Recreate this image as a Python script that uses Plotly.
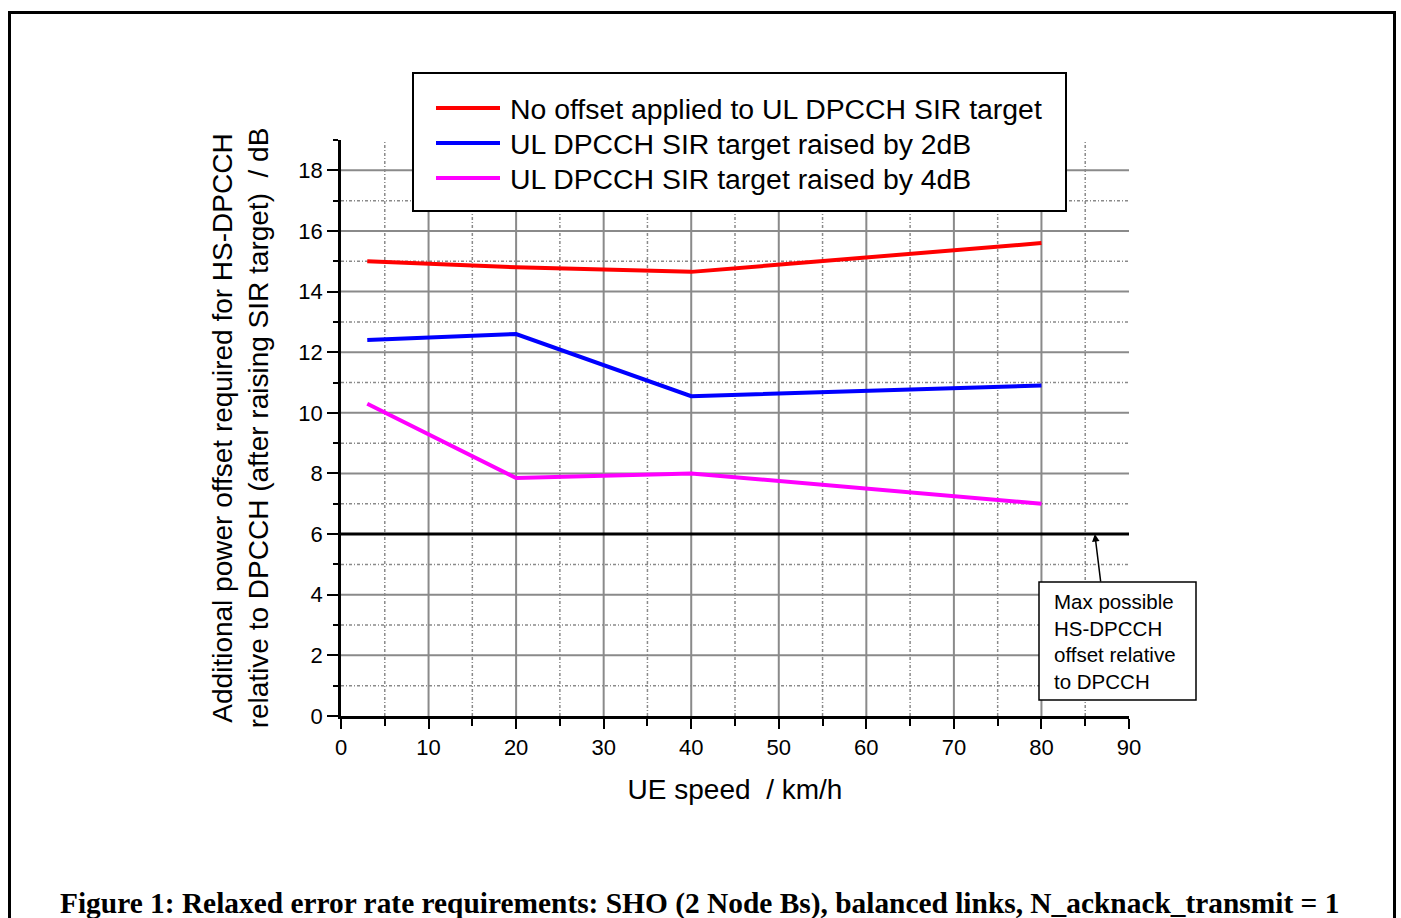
import plotly.graph_objects as go

# UE speed (km/h) and required HS-DPCCH power offset (dB) for each SIR target setting
speed = [3, 20, 40, 80]
no_offset = [15.0, 14.8, 14.65, 15.6]
raised_2db = [12.4, 12.6, 10.55, 10.9]
raised_4db = [10.3, 7.85, 8.0, 7.0]
max_offset = 6

series_names = [
    "No offset applied to UL DPCCH SIR target",
    "UL DPCCH SIR target raised by 2dB",
    "UL DPCCH SIR target raised by 4dB",
]
series_values = [no_offset, raised_2db, raised_4db]
series_colors = ["#ff0000", "#0000ff", "#ff00ff"]

x_major_grid = [10, 20, 30, 40, 50, 60, 70, 80]
x_minor_grid = [5, 15, 25, 35, 45, 55, 65, 75, 85]
y_major_grid = [2, 4, 6, 8, 10, 12, 14, 16, 18]
y_minor_grid = [1, 3, 5, 7, 9, 11, 13, 15, 17]

X_RANGE = [0, 90]
Y_RANGE = [0, 19]

W, H = 1401, 918
ML, MR, MT, MB = 341, 272, 140, 202
PW, PH = W - ML - MR, H - MT - MB

SANS = "Liberation Sans, Arial, sans-serif"
SERIF = "Liberation Serif, Times New Roman, serif"
GRID = "#8a8a8a"


def px_x(p):
    return (p - ML) / PW


def px_y(p):
    return (H - MB - p) / PH


fig = go.Figure()

shapes = []
# grid: solid at major values, dotted at intermediate values
for v in x_major_grid:
    shapes.append(dict(type="line", xref="x", yref="y", x0=v, x1=v, y0=Y_RANGE[0], y1=Y_RANGE[1],
                       line=dict(color=GRID, width=2), layer="below"))
for v in x_minor_grid:
    shapes.append(dict(type="line", xref="x", yref="y", x0=v, x1=v, y0=Y_RANGE[0], y1=Y_RANGE[1],
                       line=dict(color=GRID, width=1.5, dash="3px,2px,1px,2px"), layer="below"))
for v in y_major_grid:
    shapes.append(dict(type="line", xref="x", yref="y", x0=X_RANGE[0], x1=X_RANGE[1], y0=v, y1=v,
                       line=dict(color=GRID, width=2), layer="below"))
for v in y_minor_grid:
    shapes.append(dict(type="line", xref="x", yref="y", x0=X_RANGE[0], x1=X_RANGE[1], y0=v, y1=v,
                       line=dict(color=GRID, width=1.5, dash="3px,2px,1px,2px"), layer="below"))

# horizontal limit line
fig.add_trace(go.Scatter(x=X_RANGE, y=[max_offset, max_offset], mode="lines",
                         line=dict(color="black", width=3), showlegend=False, hoverinfo="skip"))

for name, vals, col in zip(series_names, series_values, series_colors):
    fig.add_trace(go.Scatter(x=speed, y=vals, mode="lines", name=name,
                             line=dict(color=col, width=4), showlegend=False))

# legend box
shapes.append(dict(type="rect", xref="paper", yref="paper",
                   x0=px_x(413), x1=px_x(1066), y0=px_y(211), y1=px_y(73),
                   line=dict(color="black", width=2), fillcolor="white", layer="above"))
annotations = []
for i, (name, col) in enumerate(zip(series_names, series_colors)):
    row_y = 108 + 35 * i
    shapes.append(dict(type="line", xref="paper", yref="paper",
                       x0=px_x(436), x1=px_x(500), y0=px_y(row_y), y1=px_y(row_y),
                       line=dict(color=col, width=4), layer="above"))
    annotations.append(dict(xref="paper", yref="paper", x=px_x(508), y=px_y(row_y + 1),
                            xanchor="left", yanchor="middle", text=name, showarrow=False,
                            font=dict(family=SANS, size=28.4, color="black")))

# callout for the limit line: box, text and arrow
shapes.append(dict(type="rect", xref="paper", yref="paper",
                   x0=px_x(1039), x1=px_x(1196), y0=px_y(700), y1=px_y(582),
                   line=dict(color="black", width=1.5), fillcolor="white", layer="above"))
annotations.append(dict(
    xref="paper", yref="paper", x=px_x(1052), y=px_y(641), xanchor="left", yanchor="middle",
    text="Max possible<br>HS-DPCCH<br>offset relative<br>to DPCCH",
    align="left", showarrow=False,
    font=dict(family=SANS, size=20.5, color="black"),
))
annotations.append(dict(
    xref="x", yref="y", x=86.1, y=max_offset, ax=6, ay=49, text="",
    showarrow=True, arrowhead=2, arrowsize=1, arrowwidth=1.5, arrowcolor="black",
))

# caption
annotations.append(dict(
    xref="paper", yref="paper", x=px_x(699), y=px_y(903), xanchor="center", yanchor="middle",
    text="<b>Figure 1: Relaxed error rate requirements: SHO (2 Node Bs), balanced links, N_acknack_transmit = 1</b>",
    showarrow=False, font=dict(family=SERIF, size=29.4, color="black"),
))

# outer frame
shapes.append(dict(type="rect", xref="paper", yref="paper",
                   x0=px_x(9.5), x1=px_x(1394.5), y0=px_y(940), y1=px_y(12.5),
                   line=dict(color="black", width=3), fillcolor="rgba(0,0,0,0)", layer="above"))

fig.update_layout(
    width=W, height=H,
    margin=dict(l=ML, r=MR, t=MT, b=MB),
    paper_bgcolor="white", plot_bgcolor="white",
    shapes=shapes, annotations=annotations,
    showlegend=False,
    font=dict(family=SANS, color="black"),
)

fig.update_xaxes(
    range=X_RANGE, dtick=10, tick0=0, showgrid=False, zeroline=False,
    showline=True, linecolor="black", linewidth=2.5,
    ticks="outside", ticklen=10, tickwidth=2, tickcolor="black",
    minor=dict(dtick=5, tick0=0, ticks="outside", ticklen=7, tickwidth=2, tickcolor="black", showgrid=False),
    tickfont=dict(family=SANS, size=22, color="black"),
    title=dict(text="UE speed  / km/h", font=dict(family=SANS, size=28, color="black"), standoff=21),
)
fig.update_yaxes(
    range=Y_RANGE, dtick=2, tick0=0, showgrid=False, zeroline=False,
    showline=True, linecolor="black", linewidth=2.5,
    ticks="outside", ticklen=11, tickwidth=2, tickcolor="black",
    minor=dict(dtick=1, tick0=0, ticks="outside", ticklen=5, tickwidth=2, tickcolor="black", showgrid=False),
    tickfont=dict(family=SANS, size=22, color="black"),
    title=dict(text="Additional power offset required for HS-DPCCH<br>relative to DPCCH (after raising SIR target)  / dB",
               font=dict(family=SANS, size=28, color="black"), standoff=22),
)

fig.write_html("out.html")
